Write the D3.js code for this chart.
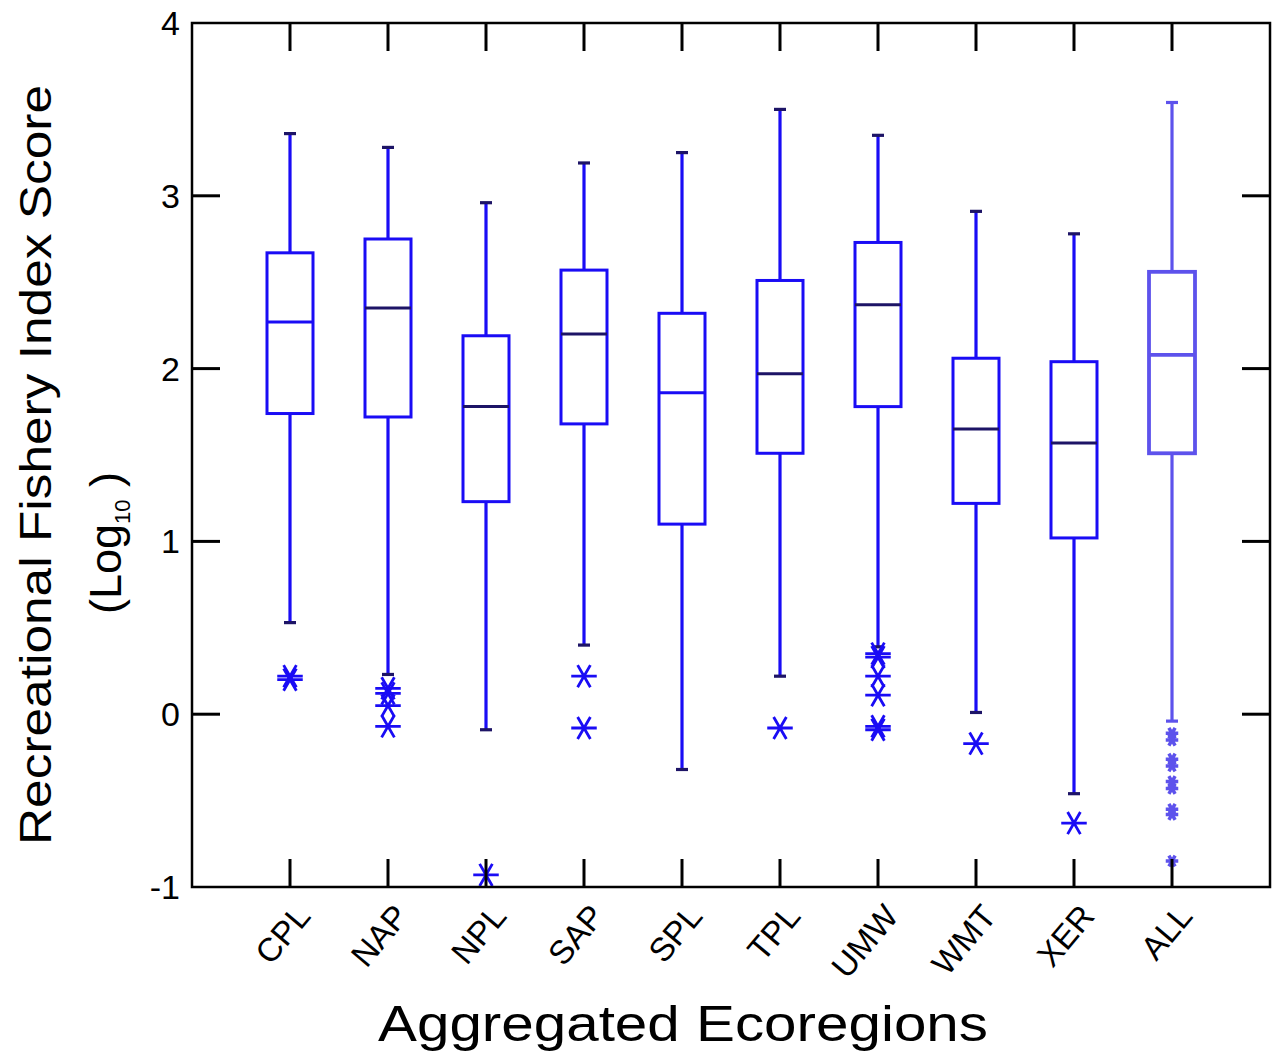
<!DOCTYPE html>
<html>
<head>
<meta charset="utf-8">
<script src="https://cdn.jsdelivr.net/npm/d3@7"></script>
<style>
  body { margin: 0; background: #fff; }
  text { font-family: 'Liberation Sans', Arial, sans-serif; fill: #000; }
</style>
</head>
<body>
<div id="chart"></div>
<script>
// box plot values (log10 scores)
const categories = ['CPL', 'NAP', 'NPL', 'SAP', 'SPL', 'TPL', 'UMW', 'WMT', 'XER', 'ALL'];
const whiskerHigh = [3.36, 3.28, 2.96, 3.19, 3.25, 3.50, 3.35, 2.91, 2.78, 3.54];
const q3Values = [2.67, 2.75, 2.19, 2.57, 2.32, 2.51, 2.73, 2.06, 2.04, 2.56];
const medianValues = [2.27, 2.35, 1.78, 2.20, 1.86, 1.97, 2.37, 1.65, 1.57, 2.08];
const q1Values = [1.74, 1.72, 1.23, 1.68, 1.10, 1.51, 1.78, 1.22, 1.02, 1.51];
const whiskerLow = [0.53, 0.23, -0.09, 0.40, -0.32, 0.22, 0.39, 0.01, -0.46, -0.04];
const outlierValues = [
  [0.22, 0.20],
  [0.15, 0.12, 0.05, -0.07],
  [-0.93],
  [0.22, -0.08],
  [],
  [-0.08],
  [0.35, 0.33, 0.22, 0.11, -0.07, -0.09],
  [-0.17],
  [-0.63],
  [-0.11, -0.15, -0.26, -0.30, -0.39, -0.43, -0.55, -0.58, -0.85]
];
const yTicks = [-1, 0, 1, 2, 3, 4];

const width = 1277;
const height = 1055;
const plot = {left: 192, right: 1270, top: 23, bottom: 887};

const x = d3.scaleLinear().domain([0, 11]).range([plot.left, plot.right]);
const y = d3.scaleLinear().domain([-1, 4]).range([plot.bottom, plot.top]);

const blue = '#1a0cf5';
const allBlue = '#5d52ec';
const darkMedian = '#1d1466';
const medianColor = ['blue', 'dark', 'dark', 'dark', 'blue', 'dark', 'dark', 'dark', 'dark', 'all'];

const svg = d3.select('#chart')
  .append('svg')
  .attr('width', width)
  .attr('height', height);

const boxes = categories.map((c, i) => ({
  name: c,
  i: i + 1,
  hi: whiskerHigh[i],
  q3: q3Values[i],
  med: medianValues[i],
  q1: q1Values[i],
  lo: whiskerLow[i],
  out: outlierValues[i]
}));

const halfBox = 23;
const halfCap = 6;

const g = svg.append('g').attr('class', 'boxes');

const box = g.selectAll('g.box')
  .data(boxes)
  .enter().append('g')
    .attr('class', 'box')
    .style('stroke', d => d.name === 'ALL' ? allBlue : blue)
    .style('fill', 'none');

// whiskers
box.append('line')
  .attr('x1', d => x(d.i)).attr('x2', d => x(d.i))
  .attr('y1', d => y(d.hi)).attr('y2', d => y(d.q3))
  .style('stroke-width', 3.2);
box.append('line')
  .attr('x1', d => x(d.i)).attr('x2', d => x(d.i))
  .attr('y1', d => y(d.q1)).attr('y2', d => y(d.lo))
  .style('stroke-width', 3.2);

// caps
box.append('line')
  .attr('x1', d => x(d.i) - halfCap).attr('x2', d => x(d.i) + halfCap)
  .attr('y1', d => y(d.hi)).attr('y2', d => y(d.hi))
  .style('stroke-width', 3.2)
  .style('stroke', d => d.name === 'ALL' ? allBlue : darkMedian);
box.append('line')
  .attr('x1', d => x(d.i) - halfCap).attr('x2', d => x(d.i) + halfCap)
  .attr('y1', d => y(d.lo)).attr('y2', d => y(d.lo))
  .style('stroke-width', 3.2)
  .style('stroke', d => d.name === 'ALL' ? allBlue : darkMedian);

// box
box.append('rect')
  .attr('x', d => x(d.i) - halfBox)
  .attr('width', halfBox * 2)
  .attr('y', d => y(d.q3))
  .attr('height', d => y(d.q1) - y(d.q3))
  .style('stroke-width', d => d.name === 'ALL' ? 3.8 : 3);

// median
box.append('line')
  .attr('x1', d => x(d.i) - halfBox).attr('x2', d => x(d.i) + halfBox)
  .attr('y1', d => y(d.med)).attr('y2', d => y(d.med))
  .style('stroke-width', d => d.name === 'ALL' ? 3.8 : 3)
  .style('stroke', (d, i) => medianColor[i] === 'dark' ? darkMedian : (medianColor[i] === 'all' ? allBlue : blue));

// outliers
const star = d3.symbol().type(d3.symbolAsterisk);
box.selectAll('path.outlier')
  .data(d => d.out.map(v => ({i: d.i, v: v, all: d.name === 'ALL'})))
  .enter().append('path')
    .attr('class', 'outlier')
    .attr('transform', d => `translate(${x(d.i)},${y(d.v)}) rotate(90)`)
    .attr('d', d => star.size(d.all ? 110 : 460)())
    .style('stroke-width', d => d.all ? 3.5 : 2.8);

// frame
const frame = svg.append('g').style('stroke', '#000').style('stroke-width', 3).style('fill', 'none');
frame.append('rect')
  .attr('x', plot.left).attr('y', plot.top)
  .attr('width', plot.right - plot.left)
  .attr('height', plot.bottom - plot.top)
  .style('stroke-width', 2.5);

const tickLen = 28;

// y ticks left and right (inward)
frame.selectAll('line.yl')
  .data(yTicks.slice(1, -1))
  .enter().append('line')
    .attr('x1', plot.left).attr('x2', plot.left + tickLen)
    .attr('y1', d => y(d)).attr('y2', d => y(d));
frame.selectAll('line.yr')
  .data(yTicks.slice(1, -1))
  .enter().append('line')
    .attr('x1', plot.right).attr('x2', plot.right - tickLen)
    .attr('y1', d => y(d)).attr('y2', d => y(d));

// x ticks top and bottom (inward)
frame.selectAll('line.xt')
  .data(boxes)
  .enter().append('line')
    .attr('x1', d => x(d.i)).attr('x2', d => x(d.i))
    .attr('y1', plot.top).attr('y2', plot.top + tickLen);
frame.selectAll('line.xb')
  .data(boxes)
  .enter().append('line')
    .attr('x1', d => x(d.i)).attr('x2', d => x(d.i))
    .attr('y1', plot.bottom).attr('y2', plot.bottom - tickLen);

// y tick labels
svg.append('g').selectAll('text')
  .data(yTicks)
  .enter().append('text')
    .attr('x', 180)
    .attr('y', d => y(d) + 12)
    .attr('text-anchor', 'end')
    .style('font-size', '34px')
    .text(d => d);

// x tick labels, rotated
svg.append('g').selectAll('text')
  .data(boxes)
  .enter().append('text')
    .attr('transform', d => `translate(${x(d.i) + 22},${plot.bottom + 30}) rotate(-50)`)
    .attr('text-anchor', 'end')
    .style('font-size', '33px')
    .text(d => d.name);

// axis titles
svg.append('text')
  .attr('x', 683)
  .attr('y', 1041)
  .attr('text-anchor', 'middle')
  .style('font-size', '50px')
  .attr('textLength', 610)
  .attr('lengthAdjust', 'spacingAndGlyphs')
  .text('Aggregated Ecoregions');

svg.append('text')
  .attr('transform', 'translate(51,465) rotate(-90)')
  .attr('text-anchor', 'middle')
  .style('font-size', '44px')
  .attr('textLength', 760)
  .attr('lengthAdjust', 'spacingAndGlyphs')
  .text('Recreational Fishery Index Score');

const logLabel = svg.append('text')
  .attr('transform', 'translate(121,543) rotate(-90)')
  .attr('text-anchor', 'middle')
  .style('font-size', '45px');
logLabel.append('tspan').text('(Log');
logLabel.append('tspan').attr('dy', 9).style('font-size', '22px').text('10');
logLabel.append('tspan').attr('dy', -9).text(' )');
</script>
</body>
</html>
